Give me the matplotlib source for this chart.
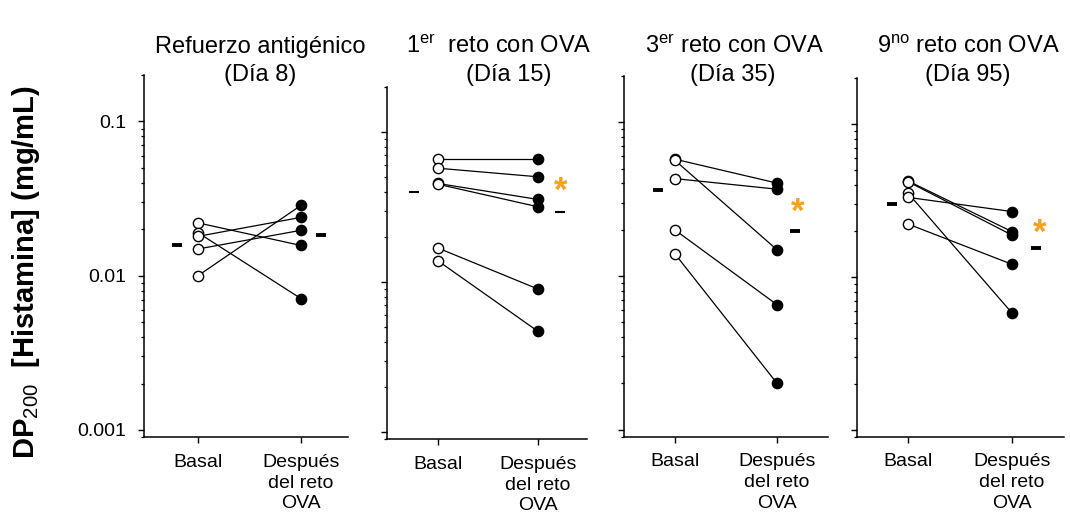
import matplotlib
matplotlib.use("Agg")
import matplotlib.pyplot as plt
from matplotlib.ticker import LogLocator, NullFormatter, FixedLocator

plt.rcParams['font.family'] = ['Liberation Sans', 'DejaVu Sans']
plt.rcParams['mathtext.fontset'] = 'custom'
plt.rcParams['mathtext.rm'] = 'Liberation Sans'
plt.rcParams['mathtext.it'] = 'Liberation Sans:italic'
plt.rcParams['mathtext.bf'] = 'Liberation Sans:bold'

# data (mg/mL)
titles_l1 = ["Refuerzo antigénico", r"1$^{\mathrm{er}}$  reto con OVA",
             r"3$^{\mathrm{er}}$ reto con OVA", r"9$^{\mathrm{no}}$ reto con OVA"]
titles_l2 = ["(Día 8)", "(Día 15)", "(Día 35)", "(Día 95)"]
groups = ["Basal", "Después\ndel reto\nOVA"]

basal1 = [0.0220, 0.0190, 0.0180, 0.0149, 0.0100]
post1 = [0.0157, 0.0071, 0.0239, 0.0197, 0.0286]
basal2 = [0.0658, 0.0575, 0.0455, 0.0450, 0.0169, 0.0139]
post2 = [0.0658, 0.0504, 0.0356, 0.0318, 0.0090, 0.0047]
basal3 = [0.0575, 0.0565, 0.0430, 0.0199, 0.0139]
post3 = [0.0402, 0.0148, 0.0367, 0.0065, 0.0020]
basal4 = [0.0425, 0.0420, 0.0353, 0.0332, 0.0222]
post4 = [0.0198, 0.0188, 0.0058, 0.0268, 0.0121]

mean_basal = [0.0157, 0.0398, 0.0364, 0.0299]
mean_post = [0.0183, 0.0293, 0.0195, 0.0154]
signif = [False, True, True, True]
star_y = [None, 0.040, 0.0261, 0.0193]

basals = [basal1, basal2, basal3, basal4]
posts = [post1, post2, post3, post4]

positions = [[0.1346, 0.1676, 0.1907, 0.6895],
             [0.3614, 0.1638, 0.1872, 0.6705],
             [0.5832, 0.1682, 0.1907, 0.6870],
             [0.8012, 0.1682, 0.1932, 0.6827]]
xlims = [(0.476, 2.456), (0.49, 2.49), (0.50, 2.50), (0.51, 2.50)]
mean_x = [(0.80, 2.19), (0.76, 2.22), (0.83, 2.18), (0.84, 2.23)]
star_x = [None, 2.23, 2.20, 2.27]
dash_w = [2.8, 1.5, 2.8, 2.8]
t1_x = [260, 499, 735, 968]
t2_x = [260, 509, 733, 968]

W, H = 1070, 525
fig = plt.figure(figsize=(W / 100, H / 100), dpi=100)

for i in range(4):
    ax = fig.add_axes(positions[i])
    for b, p in zip(basals[i], posts[i]):
        ax.plot([1, 2], [b, p], color='black', lw=0.9, zorder=1)
    ax.plot([1] * len(basals[i]), basals[i], 'o', ms=7.4, mfc='white',
            mec='black', mew=1.0, ls='none', zorder=3)
    ax.plot([2] * len(posts[i]), posts[i], 'o', ms=7.4, mfc='black',
            mec='black', ls='none', zorder=3)
    ax.plot([mean_x[i][0]], [mean_basal[i]], marker='_', ms=7.5,
            mew=dash_w[i], color='black', ls='none')
    ax.plot([mean_x[i][1]], [mean_post[i]], marker='_', ms=7.5,
            mew=dash_w[i], color='black', ls='none')
    if signif[i]:
        ax.text(star_x[i], star_y[i], "*", color='#F7A21B', fontsize=25,
                fontweight='bold', ha='center', va='center')

    ax.set_yscale('log')
    ax.set_ylim(0.0009, 0.2)
    ax.set_xlim(*xlims[i])
    ax.yaxis.set_major_locator(FixedLocator([0.001, 0.01, 0.1]))
    ax.yaxis.set_minor_locator(LogLocator(base=10, subs=range(2, 10)))
    ax.yaxis.set_minor_formatter(NullFormatter())
    if i == 0:
        ax.set_yticklabels(["0.001", "0.01", "0.1"])
    else:
        ax.set_yticklabels([])
    ax.set_xticks([1, 2])
    ax.set_xticklabels(groups, linespacing=1.3)
    for s in ['top', 'right']:
        ax.spines[s].set_visible(False)
    for s in ['left', 'bottom']:
        ax.spines[s].set_linewidth(1.1)
    ax.tick_params(axis='both', which='major', length=4, width=1.0,
                   labelsize=14, direction='out')
    ax.tick_params(axis='y', which='minor', length=2.5, width=0.9)
    ax.tick_params(axis='y', which='major', pad=9)
    ax.tick_params(axis='x', which='major', pad=8)

    fig.text(t1_x[i] / W, 1 - 53 / H, titles_l1[i], fontsize=17,
             ha='center', va='baseline')
    fig.text(t2_x[i] / W, 1 - 81 / H, titles_l2[i], fontsize=17,
             ha='center', va='baseline')

fig.text(26 / W, 1 - 272 / H, r"DP$_{\mathrm{200}}$  [Histamina] (mg/mL)",
         rotation=90, fontsize=21, fontweight='bold', ha='center', va='center')

fig.savefig("out.png", dpi=100)
